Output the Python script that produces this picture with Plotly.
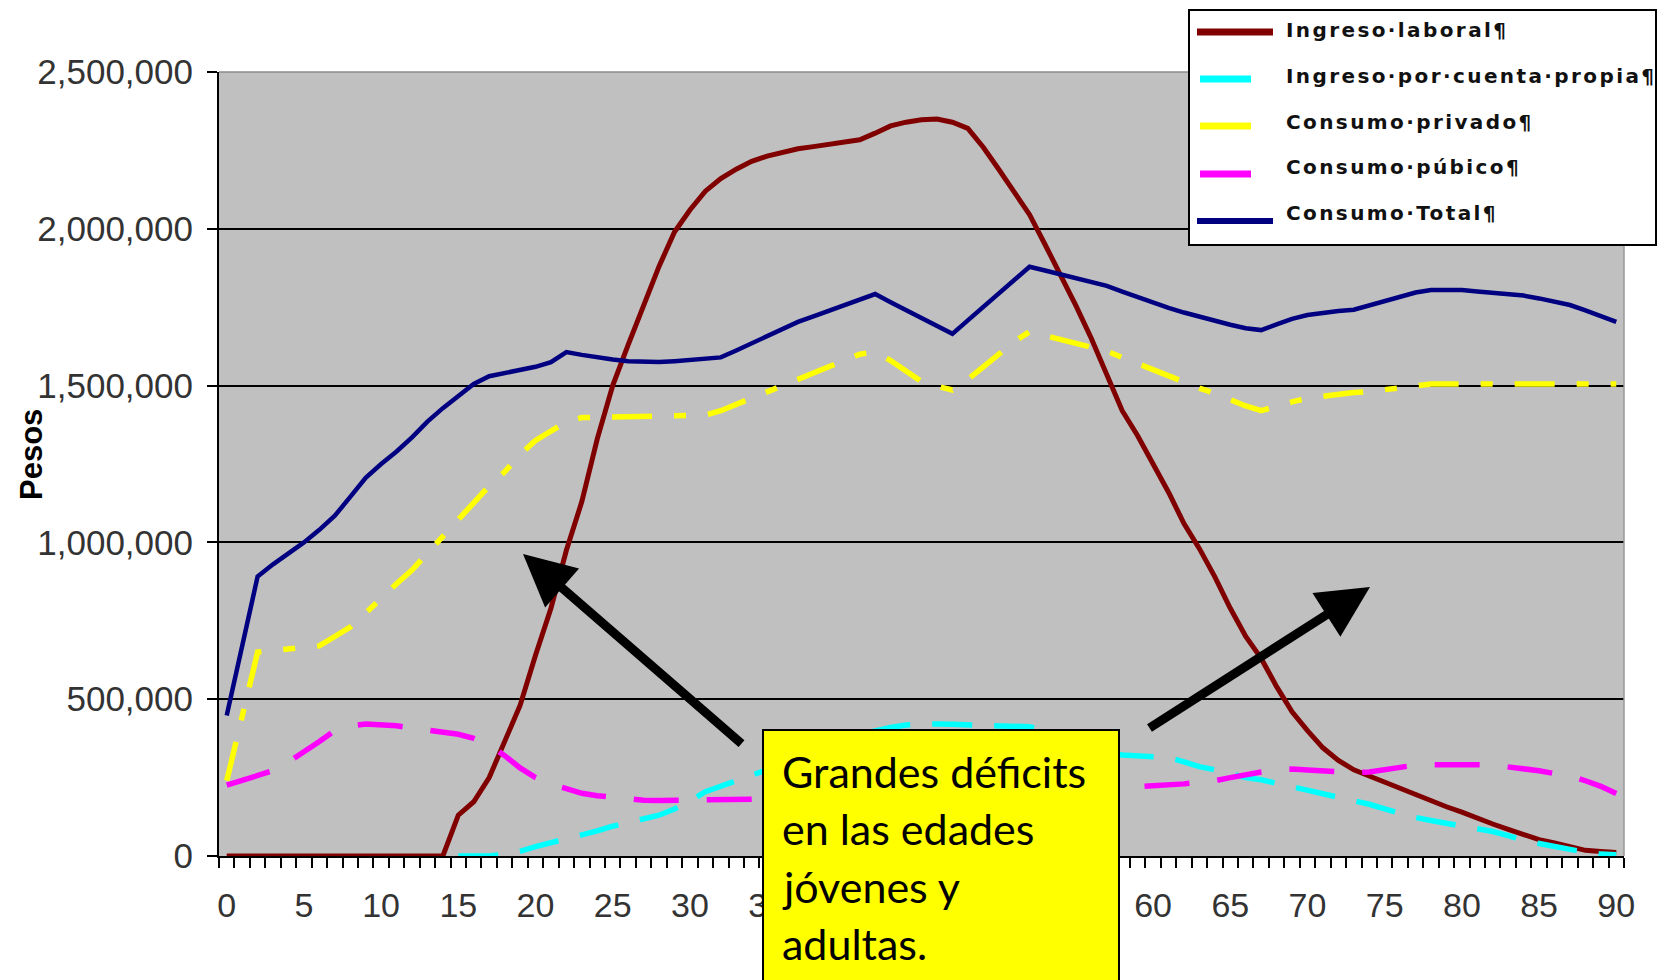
import plotly.graph_objects as go

# edades 0..90 y perfiles (pesos)
edades = list(range(91))

ingreso_laboral = [
    0, 0, 0, 0, 0, 0, 0, 0, 0, 0,
    0, 0, 0, 0, 0, 130000, 173000, 250000, 370000, 480000,
    640000, 790000, 975000, 1130000, 1330000, 1500000, 1630000, 1760000, 1880000, 1990000,
    2060000, 2120000, 2160000, 2190000, 2215000, 2232000, 2245000, 2255000, 2262000, 2270000,
    2276000, 2284000, 2305000, 2328000, 2340000, 2348000, 2350000, 2340000, 2320000, 2260000,
    2190000, 2120000, 2045000, 1950000, 1853000, 1755000, 1650000, 1530000, 1420000, 1340000,
    1250000, 1160000, 1060000, 980000, 890000, 790000, 700000, 630000, 540000, 460000,
    400000, 345000, 305000, 275000, 255000, 235000, 215000, 195000, 175000, 157000,
    140000, 120000, 102000, 85000, 68000, 52000, 42000, 30000, 18000, 14000,
    11000,
]

ingreso_cuenta_propia = [
    None, None, None, None, None, None, None, None, None, None,
    None, None, None, None, None, 0, 0, 0, 5000, 15000,
    30000, 42000, 52000, 65000, 80000, 95000, 108000, 118000, 130000, 150000,
    175000, 205000, 222000, 238000, 255000, 275000, 295000, 315000, 335000, 355000,
    372000, 388000, 400000, 410000, 418000, 421000, 421000, 420000, 418000, 416000,
    415000, 414000, 412000, 400000, 385000, 368000, 350000, 330000, 322000, 318000,
    316000, 314000, 300000, 285000, 275000, 262000, 250000, 243000, 232000, 222000,
    210000, 198000, 188000, 178000, 165000, 150000, 136000, 123000, 113000, 104000,
    98000, 88000, 78000, 65000, 50000, 40000, 30000, 20000, 12000, 6000,
    4000,
]

consumo_privado = [
    240000, 450000, 650000, 655000, 660000, 665000, 670000, 700000, 730000, 775000,
    824000, 868000, 912000, 965000, 1020000, 1070000, 1125000, 1180000, 1225000, 1280000,
    1325000, 1354000, 1385000, 1398000, 1399000, 1400000, 1400000, 1401000, 1401000, 1403000,
    1404000, 1406000, 1420000, 1438000, 1460000, 1480000, 1502000, 1520000, 1540000, 1562000,
    1580000, 1600000, 1607000, 1580000, 1545000, 1513000, 1498000, 1486000, 1520000, 1560000,
    1600000, 1640000, 1672000, 1660000, 1645000, 1633000, 1620000, 1610000, 1590000, 1570000,
    1550000, 1530000, 1510000, 1492000, 1475000, 1455000, 1435000, 1420000, 1435000, 1448000,
    1460000, 1467000, 1472000, 1478000, 1481000, 1486000, 1492000, 1498000, 1505000, 1505000,
    1505000, 1505000, 1505000, 1505000, 1505000, 1505000, 1505000, 1505000, 1505000, 1505000,
    1505000,
]

consumo_publico = [
    226000, 240000, 255000, 272000, 300000, 330000, 365000, 400000, 415000, 421000,
    420000, 415000, 408000, 402000, 396000, 388000, 375000, 354000, 320000, 281000,
    250000, 228000, 215000, 200000, 192000, 186000, 180000, 178000, 177000, 177000,
    178000, 179000, 180000, 180000, 181000, 182000, 183000, 184000, 186000, 188000,
    190000, 192000, 194000, 196000, 198000, 200000, 201000, 202000, 203000, 204000,
    205000, 206000, 207000, 208000, 210000, 212000, 214000, 216000, 218000, 220000,
    222000, 225000, 230000, 235000, 240000, 250000, 260000, 268000, 274000, 277000,
    274000, 270000, 266000, 266000, 268000, 275000, 283000, 290000, 291000, 292000,
    292000, 291000, 290000, 285000, 277000, 272000, 263000, 255000, 240000, 222000,
    199000,
]

consumo_total = [
    448000, 670000, 891000, 930000, 965000, 1000000, 1040000, 1085000, 1145000, 1206000,
    1250000, 1290000, 1335000, 1385000, 1428000, 1465000, 1505000, 1530000, 1540000, 1548000,
    1560000, 1575000, 1607000, 1598000, 1590000, 1583000, 1578000, 1576000, 1575000, 1578000,
    1582000, 1586000, 1590000, 1612000, 1635000, 1658000, 1681000, 1703000, 1721000, 1739000,
    1757000, 1775000, 1792000, 1766000, 1740000, 1714000, 1689000, 1665000, 1708000, 1751000,
    1794000, 1837000, 1879000, 1867000, 1855000, 1843000, 1831000, 1818000, 1800000, 1782000,
    1764000, 1748000, 1733000, 1719000, 1706000, 1694000, 1683000, 1677000, 1695000, 1713000,
    1725000, 1733000, 1738000, 1742000, 1756000, 1768000, 1782000, 1797000, 1805000, 1805000,
    1805000, 1800000, 1796000, 1792000, 1787000, 1778000, 1767000, 1757000, 1740000, 1722000,
    1703000,
]

series = [
    ("Ingreso·laboral¶", ingreso_laboral, "#800000", "solid", 5),
    ("Ingreso·por·cuenta·propia¶", ingreso_cuenta_propia, "#00FFFF", "40px,22px", 5.5),
    ("Consumo·privado¶", consumo_privado, "#FFFF00", "40px,22px,12px,22px", 5.5),
    ("Consumo·púbico¶", consumo_publico, "#FF00FF", "45px,28px", 5.5),
    ("Consumo·Total¶", consumo_total, "#000080", "solid", 4.5),
]

y_ticks = [0, 500000, 1000000, 1500000, 2000000, 2500000]
y_ticktext = ["0", "500,000", "1,000,000", "1,500,000", "2,000,000", "2,500,000"]
x_ticks = list(range(0, 91, 5))

# geometría del área de trazado (píxeles de la imagen de referencia)
L, R, T, B = 219, 1624, 72, 856
OFF = 8  # margen del <body> de la página
W, H = 1677 - OFF, 980 - OFF


def px(x):
    return (x - L) / (R - L)


def py(y):
    return (B - y) / (B - T)


fig = go.Figure()
for name, vals, color, dash, w in series:
    fig.add_trace(go.Scatter(
        x=edades, y=vals, mode="lines", name=name,
        line=dict(color=color, dash=dash, width=w),
        showlegend=False, connectgaps=False,
    ))

fig.update_layout(
    width=W, height=H, autosize=False,
    margin=dict(l=L - OFF, r=W - (R - OFF), t=T - OFF, b=H - (B - OFF)),
    plot_bgcolor="#C0C0C0", paper_bgcolor="white",
    font=dict(family="Liberation Sans, Arial", color="#333333"),
)
fig.update_xaxes(
    range=[-0.5, 90.5], tickmode="array", tickvals=x_ticks,
    ticks="", showgrid=False, zeroline=False,
    showline=True, linecolor="black", linewidth=2,
    tickfont=dict(size=34, color="#333333"), ticklabelstandoff=18,
    minor=dict(tick0=-0.5, dtick=1, ticks="outside", ticklen=10,
               tickcolor="black", tickwidth=2, showgrid=False),
)
fig.update_yaxes(
    range=[0, 2500000], tickmode="array", tickvals=y_ticks, ticktext=y_ticktext,
    ticks="outside", ticklen=10, tickcolor="black", tickwidth=2,
    showgrid=True, gridcolor="black", gridwidth=1.5, zeroline=False,
    showline=True, linecolor="black", linewidth=2,
    tickfont=dict(size=35, color="#333333"), ticklabelstandoff=7,
)

# borde superior y derecho grises del área de trazado
fig.add_shape(type="line", xref="paper", yref="paper", x0=0, x1=1, y0=1, y1=1,
              line=dict(color="#8a8a8a", width=1.5))
fig.add_shape(type="line", xref="paper", yref="paper", x0=1, x1=1, y0=0, y1=1,
              line=dict(color="#9a9a9a", width=1.5))

# título del eje Y
fig.add_annotation(
    xref="paper", yref="paper", x=px(32), y=py(455), xanchor="center", yanchor="middle",
    text="<b>Pesos</b>", textangle=-90, showarrow=False,
    font=dict(size=31, color="black", family="Liberation Sans, Arial"),
)

# leyenda dibujada como recuadro
fig.add_shape(type="rect", xref="paper", yref="paper",
              x0=px(1189), x1=px(1656), y0=py(245), y1=py(10),
              fillcolor="white", line=dict(color="black", width=2), layer="above")
legend_rows = [(32, 30, 1197, 1273, 7), (79, 76, 1200, 1251, 7),
               (126, 122, 1200, 1251, 7), (174, 167, 1200, 1251, 7),
               (221, 213, 1197, 1273, 6)]
for (name, _, color, _, _), (ly, ty, x0, x1, lw) in zip(series, legend_rows):
    fig.add_shape(type="line", xref="paper", yref="paper",
                  x0=px(x0), x1=px(x1), y0=py(ly), y1=py(ly),
                  line=dict(color=color, width=lw), layer="above")
    fig.add_annotation(xref="paper", yref="paper", x=px(1284), y=py(ty),
                       xanchor="left", yanchor="middle", showarrow=False,
                       text=f"<span style='letter-spacing:2.4px'><b>{name}</b></span>",
                       font=dict(family="DejaVu Sans", size=20, color="#111111"))

# flechas
fig.add_annotation(xref="paper", yref="paper", x=px(523), y=py(554),
                   ax=743 - 523, ay=745 - 554, axref="pixel", ayref="pixel",
                   text="", showarrow=True, arrowhead=2, arrowsize=1.15,
                   arrowwidth=9, arrowcolor="black", standoff=0)
fig.add_annotation(xref="paper", yref="paper", x=px(1370), y=py(587),
                   ax=1148 - 1370, ay=729 - 587, axref="pixel", ayref="pixel",
                   text="", showarrow=True, arrowhead=2, arrowsize=1.15,
                   arrowwidth=9, arrowcolor="black", standoff=0)

# recuadro amarillo
fig.add_shape(type="rect", xref="paper", yref="paper",
              x0=px(763), x1=px(1119), y0=py(995), y1=py(730),
              fillcolor="#FFFF00", line=dict(color="black", width=2), layer="above")
for i, linea in enumerate(["Grandes déficits", "en las edades", "jóvenes y", "adultas."]):
    fig.add_annotation(xref="paper", yref="paper", x=px(780), y=py(771 + 57.5 * i),
                       xanchor="left", yanchor="middle", showarrow=False,
                       text=linea, font=dict(family="Lato", size=43, color="black"))

fig.write_html("out.html")
